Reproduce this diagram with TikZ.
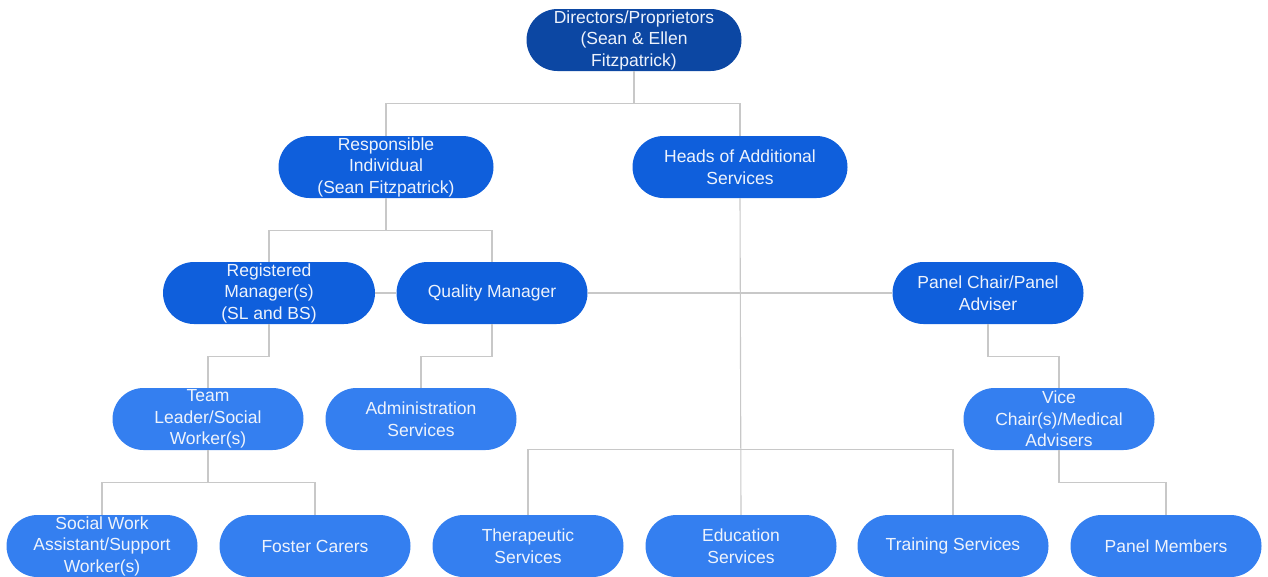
\documentclass[tikz,border=0pt]{standalone}
\usepackage{fontspec}
\setmainfont{Liberation Sans}
\usepackage{xcolor}
\usetikzlibrary{positioning,calc}

\definecolor{topblue}{HTML}{0C47A3}
\definecolor{midblue}{HTML}{0F5FDC}
\definecolor{lowblue}{HTML}{347FF0}
\definecolor{linegray}{HTML}{C8C8C8}
\definecolor{paletext}{HTML}{EEF3FC}

\begin{document}
\begin{tikzpicture}[x=1pt, y=-1pt,
    pill/.style={rectangle, rounded corners=31pt, minimum height=62pt,
        inner sep=0pt, align=center, text=paletext,
        font=\fontsize{17.5}{21.5}\selectfont},
    wide/.style={pill, minimum width=215pt},
    narrow/.style={pill, minimum width=191pt},
    link/.style={draw=linegray, line width=1.1pt}]
    \useasboundingbox (0,0) rectangle (1268,576);

    % Top level
    \node[wide, fill=topblue] (dir) at (634,40) {Directors/Proprietors\\(Sean \& Ellen\\Fitzpatrick)};

    % Second level
    \node[wide, fill=midblue] (resp) at (386,167) {Responsible\\Individual\\(Sean Fitzpatrick)};
    \node[wide, fill=midblue] (heads) at (740,167) {Heads of Additional\\Services};

    % Third level
    \node[wide, fill=midblue, minimum width=212pt] (reg) at (269,293) {Registered\\Manager(s)\\(SL and BS)};
    \node[narrow, fill=midblue] (qual) at (492,293) {Quality Manager};
    \node[narrow, fill=midblue] (panel) at (988,293) {Panel Chair/Panel\\Adviser};

    % Fourth level
    \node[narrow, fill=lowblue] (team) at (208,419) {Team\\Leader/Social\\Worker(s)};
    \node[narrow, fill=lowblue] (admin) at (421,419) {Administration\\Services};
    \node[narrow, fill=lowblue] (vice) at (1059,419) {Vice\\Chair(s)/Medical\\Advisers};

    % Bottom level
    \foreach \name/\x/\label in {sw/102/{Social Work\\Assistant/Support\\Worker(s)},
        foster/315/{Foster Carers}, ther/528/{Therapeutic\\Services},
        edu/741/{Education\\Services}, train/953/{Training Services},
        members/1166/{Panel Members}} {
        \node[narrow, fill=lowblue] (\name) at (\x,546) {\label};
    }

    % Connectors
    \draw[link] (dir.south) -- ++(0,32) -| (resp.north);
    \draw[link] (dir.south) -- ++(0,32) -| (heads.north);
    \draw[link] (resp.south) -- ++(0,32) -| (reg.north);
    \draw[link] (resp.south) -- ++(0,32) -| (qual.north);
    \draw[link] (reg.east) -- (qual.west);
    \draw[link] (qual.east) -- (panel.west);
    \draw[link] (reg.south) -- ++(0,32) -| (team.north);
    \draw[link] (qual.south) -- ++(0,32) -| (admin.north);
    \draw[link] (panel.south) -- ++(0,32) -| (vice.north);
    \draw[link] (team.south) -- ++(0,32) -| (sw.north);
    \draw[link] (team.south) -- ++(0,32) -| (foster.north);
    \draw[link] (heads.south) -- (edu.north);
    \draw[link] (ther.north) -- ++(0,-65) -| (train.north);
    \draw[link] (vice.south) -- ++(0,32) -| (members.north);
\end{tikzpicture}
\end{document}
